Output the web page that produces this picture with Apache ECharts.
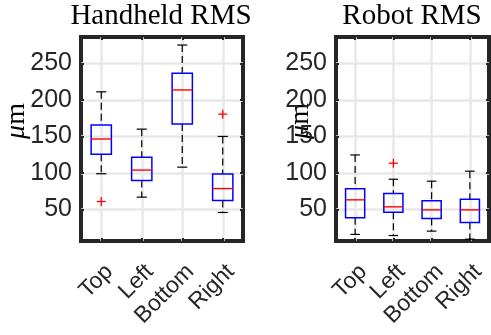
<!DOCTYPE html>
<html>
<head>
<meta charset="utf-8">
<script src="https://cdn.jsdelivr.net/npm/echarts@6/dist/echarts.min.js"></script>
<style>html,body{margin:0;padding:0;background:#fff;}#c{width:491px;height:335px;}</style>
</head>
<body>
<div id="c"></div>
<script>
const categories = ['Top', 'Left', 'Bottom', 'Right'];
const yTicks = [50, 100, 150, 200, 250];
const panelTitles = ['Handheld RMS', 'Robot RMS'];
const yLabel = 'μm';

// Handheld RMS box statistics (µm)
const handheldLow = [99, 67, 108, 46];
const handheldQ1 = [125.5, 89.6, 167, 62.4];
const handheldMedian = [146.5, 104, 213.6, 78.7];
const handheldQ3 = [165.5, 121.4, 236.4, 98.8];
const handheldHigh = [211, 160, 275, 150];
const handheldOutlierCat = [1, 4];
const handheldOutlierVal = [61, 180.5];

// Robot RMS box statistics (µm)
const robotLow = [16, 14.5, 20.5, 9.5];
const robotQ1 = [38.7, 46.4, 37.7, 32.3];
const robotMedian = [63.3, 53.7, 49.6, 49.6];
const robotQ3 = [78.3, 72, 62, 64.2];
const robotHigh = [124.7, 91.5, 88.8, 102.5];
const robotOutlierCat = [2];
const robotOutlierVal = [113.4];

const yMin = 7, yMax = 286;

function boxData(low, q1, med, q3, high) {
  return categories.map((c, i) => [i + 1, low[i], q1[i], med[i], q3[i], high[i]]);
}
function outlierData(cats, vals) {
  return cats.map((c, i) => [c, vals[i]]);
}

const dark = '#262626';

function renderBox(params, api) {
  const x = api.value(0);
  const pLow = api.coord([x, api.value(1)]);
  const pQ1 = api.coord([x, api.value(2)]);
  const pMed = api.coord([x, api.value(3)]);
  const pQ3 = api.coord([x, api.value(4)]);
  const pHigh = api.coord([x, api.value(5)]);
  const halfW = api.size([0.5, 0])[0] / 2;
  const capHalf = api.size([0.25, 0])[0] / 2;
  const cx = pMed[0];
  const dashStyle = { stroke: '#000', lineWidth: 1.2, lineDash: [7, 4], fill: null };
  const solid = { stroke: '#000', lineWidth: 1.2, fill: null };
  return {
    type: 'group',
    children: [
      { type: 'line', shape: { x1: cx, y1: pHigh[1], x2: cx, y2: pQ3[1] }, style: dashStyle },
      { type: 'line', shape: { x1: cx, y1: pQ1[1], x2: cx, y2: pLow[1] }, style: dashStyle },
      { type: 'line', shape: { x1: cx - capHalf, y1: pHigh[1], x2: cx + capHalf, y2: pHigh[1] }, style: solid },
      { type: 'line', shape: { x1: cx - capHalf, y1: pLow[1], x2: cx + capHalf, y2: pLow[1] }, style: solid },
      { type: 'rect', shape: { x: cx - halfW, y: pQ3[1], width: 2 * halfW, height: pQ1[1] - pQ3[1] },
        style: { fill: null, stroke: '#0000ff', lineWidth: 1.5 } },
      { type: 'line', shape: { x1: cx - halfW, y1: pMed[1], x2: cx + halfW, y2: pMed[1] },
        style: { stroke: '#ff0000', lineWidth: 1.4 } }
    ]
  };
}
function renderOutlier(params, api) {
  const p = api.coord([api.value(0), api.value(1)]);
  const s = 4.5;
  const st = { stroke: '#ff0000', lineWidth: 1.3 };
  return {
    type: 'group',
    children: [
      { type: 'line', shape: { x1: p[0] - s, y1: p[1], x2: p[0] + s, y2: p[1] }, style: st },
      { type: 'line', shape: { x1: p[0], y1: p[1] - s, x2: p[0], y2: p[1] + s }, style: st }
    ]
  };
}

const grids = [
  { left: 81, top: 37, width: 162, height: 204 },
  { left: 336, top: 37, width: 153, height: 204 }
];

const xAxes = [], yAxes = [];
const catIdx = categories.map((c, i) => i + 1);
grids.forEach((g, gi) => {
  xAxes.push({
    gridIndex: gi, type: 'value', position: 'bottom', min: 0.5, max: 4.5,
    axisLine: { show: false },
    axisTick: { show: true, inside: true, length: 3, customValues: catIdx, lineStyle: { color: dark, width: 2 } },
    axisLabel: {
      show: true, customValues: catIdx, rotate: 45, margin: 19, verticalAlign: 'top',
      formatter: v => categories[Math.round(v) - 1] || '',
      fontFamily: '"Liberation Sans", Arial, sans-serif', fontSize: 23, color: dark
    },
    splitLine: { show: true, lineStyle: { color: '#e8e8e8', width: 2.5 } }
  });
  xAxes.push({
    gridIndex: gi, type: 'value', position: 'top', min: 0.5, max: 4.5,
    axisLine: { show: false },
    axisTick: { show: true, inside: true, length: 3, customValues: catIdx, lineStyle: { color: dark, width: 2 } },
    axisLabel: { show: false },
    splitLine: { show: false }
  });
  yAxes.push({
    gridIndex: gi, type: 'value', position: 'left', min: yMin, max: yMax,
    axisLine: { show: false },
    axisTick: { show: true, inside: true, length: 3, customValues: yTicks, lineStyle: { color: dark, width: 2 } },
    axisLabel: {
      show: true, customValues: yTicks, margin: 9,
      fontFamily: '"Liberation Sans", Arial, sans-serif', fontSize: 25, color: dark
    },
    splitLine: { show: true, lineStyle: { color: '#e8e8e8', width: 2.5 } }
  });
  yAxes.push({
    gridIndex: gi, type: 'value', position: 'right', min: yMin, max: yMax,
    axisLine: { show: false },
    axisTick: { show: true, inside: true, length: 3, customValues: yTicks, lineStyle: { color: dark, width: 2 } },
    axisLabel: { show: false },
    splitLine: { show: false }
  });
});

const gridOpts = grids.map(g => Object.assign({ show: true, borderWidth: 4, borderColor: dark, backgroundColor: '#fff' }, g));

const titleCenters = [161, 412];
const labelCenters = [17, 301];
const graphics = [];
panelTitles.forEach((t, i) => {
  graphics.push({
    type: 'text', x: titleCenters[i], y: 16,
    style: { text: t, align: 'center', verticalAlign: 'middle', fill: '#000',
      font: '29px "Liberation Serif", "Times New Roman", serif' }
  });
  graphics.push({
    type: 'text', x: labelCenters[i], y: 121, rotation: Math.PI / 2, z: -1,
    style: {
      text: '{i|μ}{n|m}', align: 'center', verticalAlign: 'middle',
      rich: {
        i: { fontFamily: '"Liberation Serif", serif', fontStyle: 'italic', fontSize: 28, fill: '#000' },
        n: { fontFamily: '"Liberation Serif", serif', fontSize: 28, fill: '#000' }
      }
    }
  });
});

const chart = echarts.init(document.getElementById('c'), null, { renderer: 'canvas' });
chart.setOption({
  animation: false,
  backgroundColor: '#fff',
  grid: gridOpts,
  xAxis: xAxes,
  yAxis: yAxes,
  graphic: graphics,
  series: [
    { type: 'custom', xAxisIndex: 0, yAxisIndex: 0, renderItem: renderBox,
      encode: { x: 0, y: [1, 2, 3, 4, 5] },
      data: boxData(handheldLow, handheldQ1, handheldMedian, handheldQ3, handheldHigh) },
    { type: 'custom', xAxisIndex: 0, yAxisIndex: 0, renderItem: renderOutlier,
      encode: { x: 0, y: 1 }, data: outlierData(handheldOutlierCat, handheldOutlierVal) },
    { type: 'custom', xAxisIndex: 2, yAxisIndex: 2, renderItem: renderBox,
      encode: { x: 0, y: [1, 2, 3, 4, 5] },
      data: boxData(robotLow, robotQ1, robotMedian, robotQ3, robotHigh) },
    { type: 'custom', xAxisIndex: 2, yAxisIndex: 2, renderItem: renderOutlier,
      encode: { x: 0, y: 1 }, data: outlierData(robotOutlierCat, robotOutlierVal) }
  ]
});
</script>
</body>
</html>
